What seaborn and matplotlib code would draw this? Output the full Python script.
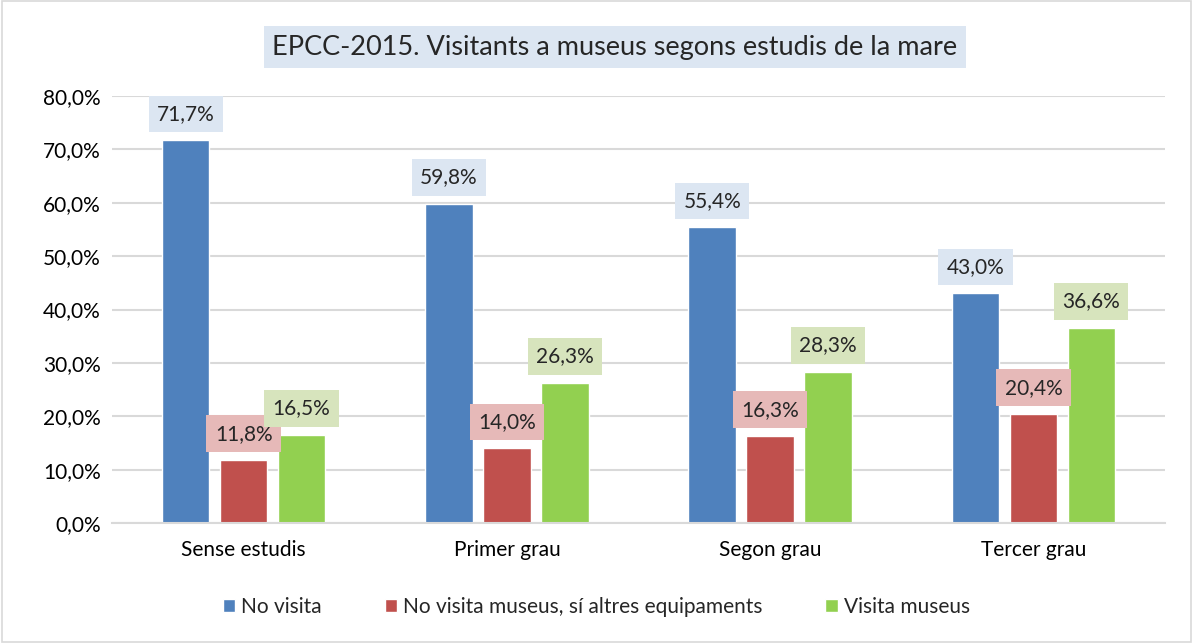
import matplotlib
matplotlib.use('Agg')
import matplotlib.pyplot as plt
from matplotlib.patches import Rectangle
from matplotlib.ticker import FuncFormatter
import numpy as np
import pandas as pd
import seaborn as sns

# Data
categories = ['Sense estudis', 'Primer grau', 'Segon grau', 'Tercer grau']
series_names = ['No visita', 'No visita museus, sí altres equipaments', 'Visita museus']
no_visita = [71.7, 59.8, 55.4, 43.0]
altres = [11.8, 14.0, 16.3, 20.4]
visita = [16.5, 26.3, 28.3, 36.6]

bar_colors = ['#4F81BD', '#C0504D', '#92D050']
label_bg = ['#DCE6F2', '#E6B9B8', '#D7E4BD']

df = pd.DataFrame({
    'estudis': categories * 3,
    'serie': [series_names[0]] * 4 + [series_names[1]] * 4 + [series_names[2]] * 4,
    'valor': no_visita + altres + visita,
})

sns.set_style('white')
plt.rcParams['font.family'] = ['Lato', 'DejaVu Sans']

fig = plt.figure(figsize=(11.93, 6.43), dpi=100)
ax = fig.add_axes([112 / 1193, 1 - 523 / 643, 1053 / 1193, 427 / 643])

sns.barplot(data=df, x='estudis', y='valor', hue='serie', order=categories,
            hue_order=series_names, palette=bar_colors, width=0.66, gap=0.18,
            saturation=1, ax=ax, legend=True)

ax.set_ylim(0, 80)
ax.set_xlim(-0.5, 3.5)
ax.set_yticks(np.arange(0, 81, 10))
ax.yaxis.set_major_formatter(FuncFormatter(lambda v, p: f'{v:.1f}%'.replace('.', ',')))
ax.yaxis.grid(True, color='#D9D9D9', linewidth=1.5)
ax.set_axisbelow(True)
for s in ['top', 'right', 'left']:
    ax.spines[s].set_visible(False)
ax.spines['bottom'].set_color('#D9D9D9')
ax.spines['bottom'].set_linewidth(1.5)
ax.tick_params(axis='both', length=0, labelsize=15, colors='black')
ax.tick_params(axis='x', pad=12)
ax.tick_params(axis='y', pad=8)
ax.set_xlabel('')
ax.set_ylabel('')

# data labels with coloured boxes
for i, cont in enumerate(ax.containers):
    for bar in cont:
        h = bar.get_height()
        ax.annotate(f'{h:.1f}%'.replace('.', ','),
                    (bar.get_x() + bar.get_width() / 2, h),
                    xytext=(0, 19), textcoords='offset points',
                    ha='center', va='center', fontsize=15,
                    bbox=dict(boxstyle='square,pad=0.4', fc=label_bg[i], ec='none'))

# legend at bottom
handles, labels = ax.get_legend_handles_labels()
ax.legend(handles, labels, loc='center', bbox_to_anchor=(0.5, 1 - 607 / 643),
          bbox_transform=fig.transFigure, ncol=3, frameon=False, fontsize=15,
          handlelength=0.6, handleheight=0.6, handletextpad=0.3, columnspacing=3.0)

# title
fig.text(615 / 1193, 1 - 47 / 643, 'EPCC-2015. Visitants a museus segons estudis de la mare',
         ha='center', va='center', fontsize=19.5,
         bbox=dict(boxstyle='square,pad=0.3', fc='#DCE6F2', ec='none'))

# border round the chart
fig.patches.append(Rectangle((0.002, 0.002), 0.996, 0.996, transform=fig.transFigure,
                             fill=False, ec='#D9D9D9', lw=1.2))

fig.savefig('out.png', dpi=100)
